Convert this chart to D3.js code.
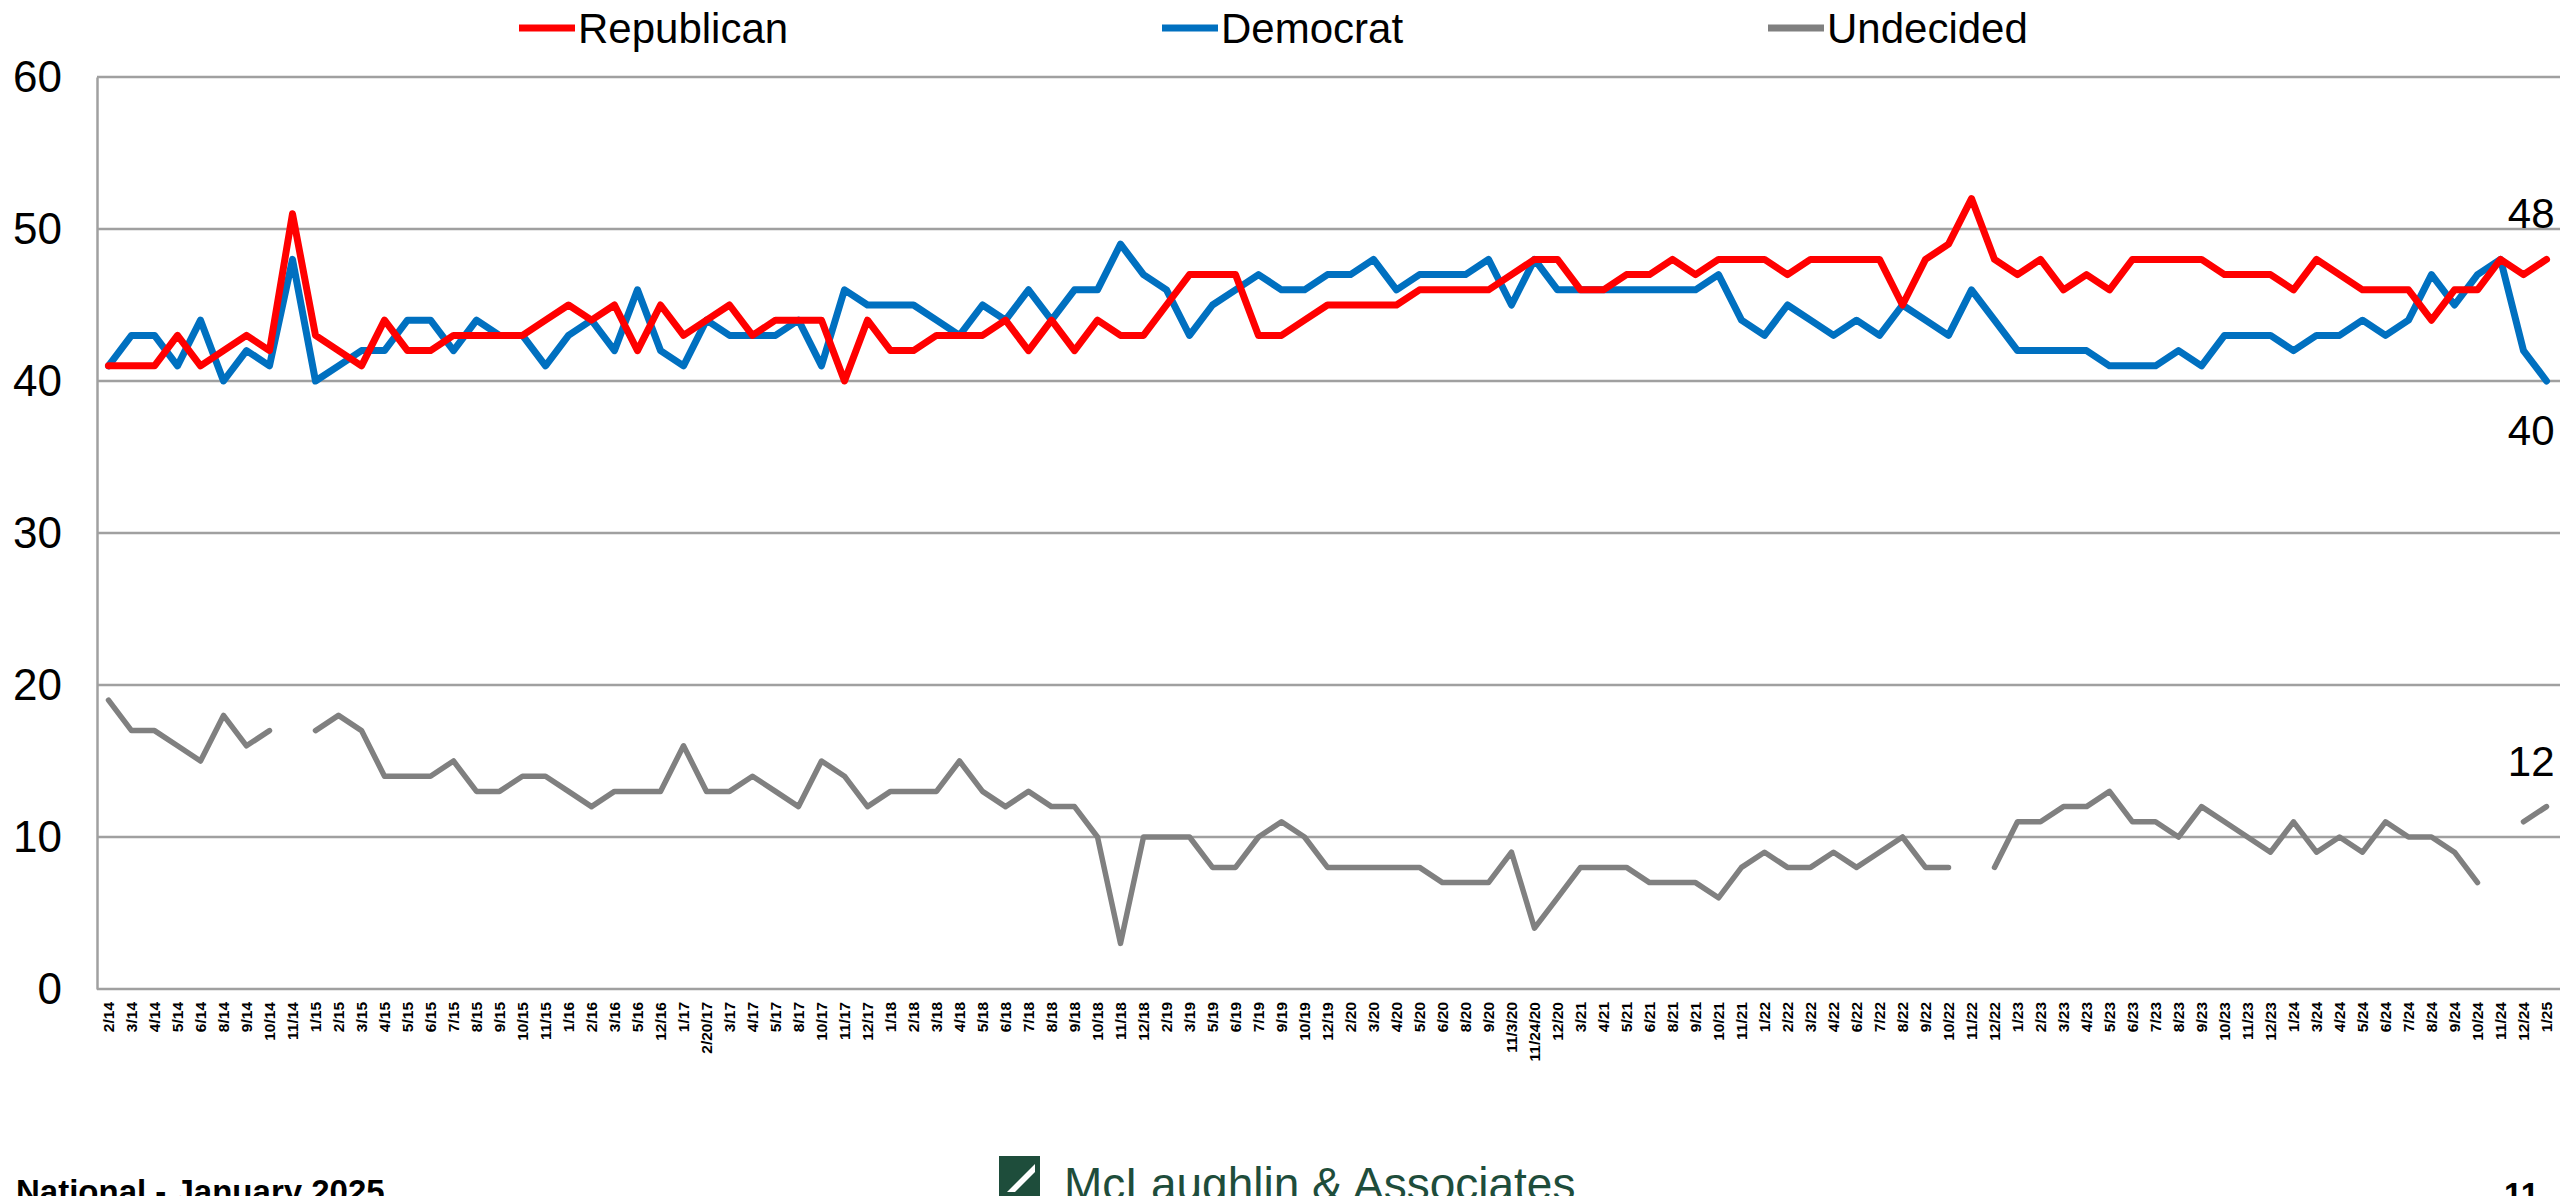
<!DOCTYPE html>
<html>
<head>
<meta charset="utf-8">
<script src="https://cdn.jsdelivr.net/npm/d3@7"></script>
<style>
  body { margin: 0; background: #fff; }
  svg { display: block; font-family: "Liberation Sans", Arial, sans-serif; }
</style>
</head>
<body>
<div id="chart"></div>
<script>
// poll dates (category axis)
var dates = ["2/14","3/14","4/14","5/14","6/14","8/14","9/14","10/14","11/14","1/15","2/15","3/15","4/15","5/15","6/15","7/15","8/15","9/15","10/15","11/15","1/16","2/16","3/16","5/16","12/16","1/17","2/20/17",
  "3/17","4/17","5/17","8/17","10/17","11/17","12/17","1/18","2/18","3/18","4/18","5/18","6/18","7/18","8/18","9/18","10/18","11/18","12/18","2/19","3/19","5/19","6/19","7/19","9/19","10/19",
  "12/19","2/20","3/20","4/20","5/20","6/20","8/20","9/20","11/3/20","11/24/20","12/20","3/21","4/21","5/21","6/21","8/21","9/21","10/21","11/21","1/22","2/22","3/22","4/22","6/22","7/22","8/22","9/22",
  "10/22","11/22","12/22","1/23","2/23","3/23","4/23","5/23","6/23","7/23","8/23","9/23","10/23","11/23","12/23","1/24","3/24","4/24","5/24","6/24","7/24","8/24","9/24","10/24","11/24","12/24","1/25"]

var republican = [41,41,41,43,41,42,43,42,51,43,42,41,44,42,42,43,43,43,43,44,45,44,45,42,45,43,44,
  45,43,44,44,44,40,44,42,42,43,43,43,44,42,44,42,44,43,43,45,47,47,47,43,43,44,
  45,45,45,45,46,46,46,46,47,48,48,46,46,47,47,48,47,48,48,48,47,48,48,48,48,45,48,
  49,52,48,47,48,46,47,46,48,48,48,48,47,47,47,46,48,47,46,46,46,44,46,46,48,47,48]

var democrat = [41,43,43,41,44,40,42,41,48,40,41,42,42,44,44,42,44,43,43,41,43,44,42,46,42,41,44,
  43,43,43,44,41,46,45,45,45,44,43,45,44,46,44,46,46,49,47,46,43,45,46,47,46,46,
  47,47,48,46,47,47,47,48,45,48,46,46,46,46,46,46,46,47,44,43,45,44,43,44,43,45,44,
  43,46,44,42,42,42,42,41,41,41,42,41,43,43,43,42,43,43,44,43,44,47,45,47,48,42,40]

var undecided = [19,17,17,16,15,18,16,17,null,17,18,17,14,14,14,15,13,13,14,14,13,12,13,13,13,16,13,
  13,14,13,12,15,14,12,13,13,13,15,13,12,13,12,12,10,3,10,10,10,8,8,10,11,10,
  8,8,8,8,8,7,7,7,9,4,6,8,8,8,7,7,7,6,8,9,8,8,9,8,9,10,8,
  8,null,8,11,11,12,12,13,11,11,10,12,11,10,9,11,9,10,9,11,10,10,9,7,null,11,12]

var yTicks = [0,10,20,30,40,50,60]

var series = [
  { name: "Republican", values: republican, color: "#ff0000", width: 7, legendX: 519 },
  { name: "Democrat", values: democrat, color: "#0070c0", width: 7, legendX: 1162 },
  { name: "Undecided", values: undecided, color: "#808080", width: 5.5, legendX: 1768 }
]

var W = 2560, H = 1196
var margin = { top: 77, right: 2, bottom: 207, left: 97 }
var width = W - margin.left - margin.right,
    height = H - margin.top - margin.bottom

var svg = d3.select("#chart").append("svg")
  .attr("width", W)
  .attr("height", H)

svg.append("rect").attr("width", W).attr("height", H).attr("fill", "#fff")

var g = svg.append("g")
  .attr("transform", "translate(" + margin.left + "," + margin.top + ")")

var xScale = d3.scaleBand()
  .domain(dates)
  .range([0, width])

var yScale = d3.scaleLinear()
  .domain([0, 60])
  .range([height, 0])

var xc = d => xScale(d) + xScale.bandwidth() / 2

// gridlines
g.append("g")
  .attr("class", "grid")
  .selectAll("line")
  .data(yTicks)
  .enter().append("line")
    .attr("x1", 0)
    .attr("x2", width + margin.right)
    .attr("y1", d => yScale(d))
    .attr("y2", d => yScale(d))
    .attr("stroke", "#a0a0a0")
    .attr("stroke-width", 2.5)

// y axis
var yAxis = g.append("g")
  .call(d3.axisLeft(yScale).tickValues(yTicks).tickSize(0).tickPadding(35))
yAxis.select(".domain").attr("stroke", "#a0a0a0").attr("stroke-width", 2.5)
yAxis.selectAll("text")
  .attr("font-size", 44)
  .attr("fill", "#000")
  .attr("font-family", "Liberation Sans, Arial, sans-serif")

// x axis
var xAxis = g.append("g")
  .attr("transform", "translate(0," + height + ")")
  .call(d3.axisBottom(xScale).tickSize(0))
xAxis.select(".domain").remove()
xAxis.selectAll("text")
  .attr("font-size", 15.5)
  .attr("font-weight", "bold")
  .attr("fill", "#000")
  .attr("font-family", "Liberation Sans, Arial, sans-serif")
  .attr("text-anchor", "end")
  .attr("dy", "0.35em")
  .attr("transform", "translate(0,13) rotate(-90)")
  .attr("x", 0)
  .attr("y", 0)

// lines
var line = d3.line()
  .defined(d => d.v != null)
  .x(d => xc(d.date))
  .y(d => yScale(d.v))

series.slice().reverse().forEach(s => {
  g.append("path")
    .datum(dates.map((d, i) => ({ date: d, v: s.values[i] })))
    .attr("fill", "none")
    .attr("stroke", s.color)
    .attr("stroke-width", s.width)
    .attr("stroke-linejoin", "round")
    .attr("stroke-linecap", "round")
    .attr("d", line)
})

// end labels
var last = dates[dates.length - 1]
var endLabels = [
  { v: republican[republican.length - 1], dy: -31 },
  { v: democrat[democrat.length - 1], dy: 64 },
  { v: undecided[undecided.length - 1], dy: -31 }
]
g.selectAll(".endlabel")
  .data(endLabels)
  .enter().append("text")
    .attr("class", "endlabel")
    .attr("x", xc(last) + 8)
    .attr("y", d => yScale(d.v) + d.dy)
    .attr("text-anchor", "end")
    .attr("font-size", 42)
    .attr("fill", "#000")
    .text(d => d.v)

// legend
var legend = svg.append("g")
series.forEach(s => {
  legend.append("line")
    .attr("x1", s.legendX).attr("x2", s.legendX + 56)
    .attr("y1", 28).attr("y2", 28)
    .attr("stroke", s.color)
    .attr("stroke-width", 7)
  legend.append("text")
    .attr("x", s.legendX + 59)
    .attr("y", 43)
    .attr("font-size", 42)
    .attr("fill", "#000")
    .text(s.name)
})

// footer
svg.append("text")
  .attr("x", 16).attr("y", 1203)
  .attr("font-size", 33).attr("font-weight", "bold")
  .text("National - January 2025")

svg.append("text")
  .attr("x", 2539).attr("y", 1206)
  .attr("text-anchor", "end")
  .attr("font-size", 33).attr("font-weight", "bold")
  .text("11")

var logo = svg.append("g").attr("transform", "translate(999,1156)")
logo.append("rect").attr("width", 41).attr("height", 41).attr("fill", "#1e4d3b")
logo.append("path")
  .attr("d", "M8,36 L36,8 L36,16 L16,36 Z")
  .attr("fill", "#fff")

svg.append("text")
  .attr("x", 1064).attr("y", 1200)
  .attr("font-size", 46)
  .attr("fill", "#1e4d3b")
  .text("McLaughlin & Associates")
</script>
</body>
</html>
